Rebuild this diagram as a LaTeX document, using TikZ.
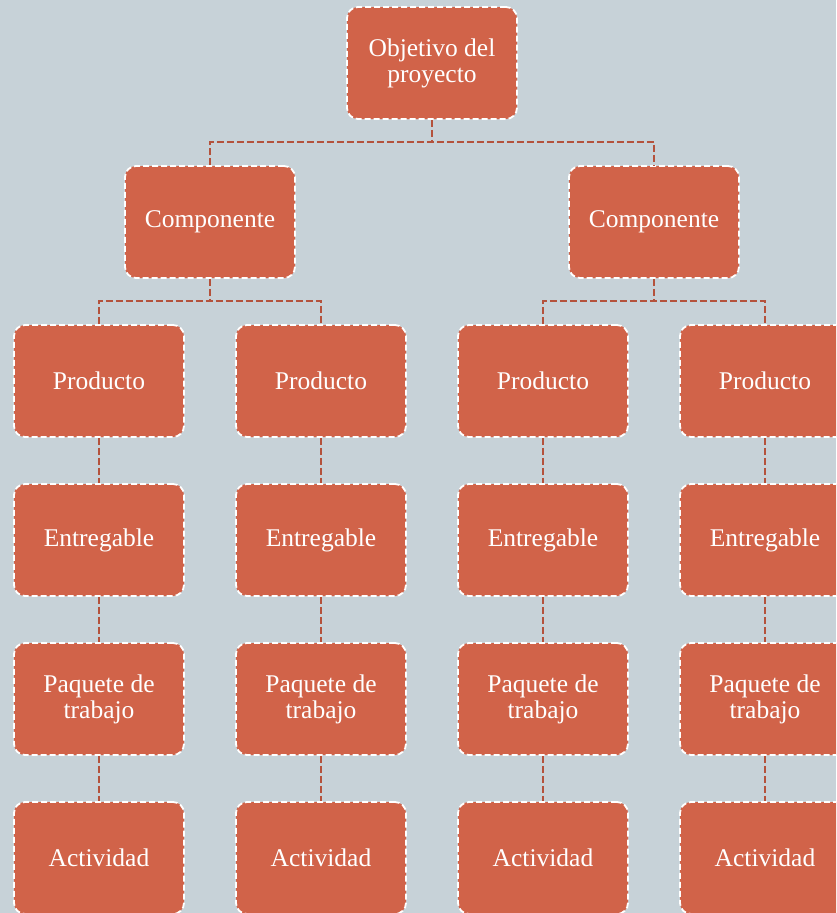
\documentclass[tikz,border=0pt]{standalone}
\usepackage{fontspec}
\setmainfont{Liberation Serif}
\definecolor{bgc}{HTML}{C7D2D8}
\definecolor{boxc}{HTML}{D16349}
\definecolor{linec}{HTML}{B4523C}
\begin{document}
\begin{tikzpicture}[x=1pt,y=-1pt,
  wbs/.style={draw=white, dashed, dash pattern=on 6pt off 3pt, line width=1.8pt, fill=boxc, rounded corners=11pt,
    minimum width=170pt, minimum height=112pt, text=white, align=center, inner sep=2pt,
    font=\fontsize{25.5}{26}\selectfont},
  conn/.style={draw=linec, dash pattern=on 7pt off 3pt, line width=2pt}]
\fill[bgc] (0,0) rectangle (836,913);
\useasboundingbox (0,0) rectangle (836,913);
\begin{scope}
\clip (0,0) rectangle (836,913);
\node[wbs] (top) at (432,63) {Objetivo del\\proyecto};
\node[wbs] (c1) at (210,222) {Componente};
\node[wbs] (c2) at (654,222) {Componente};
\foreach \i/\x in {1/99,2/321,3/543,4/765}{
  \node[wbs] (p\i) at (\x,381) {Producto};
  \node[wbs] (e\i) at (\x,540) {Entregable};
  \node[wbs] (w\i) at (\x,699) {Paquete de\\trabajo};
  \node[wbs] (a\i) at (\x,858) {Actividad};
}
\coordinate (j0) at (432,142);
\coordinate (j1) at (210,301);
\coordinate (j2) at (654,301);
\draw[conn] (top.south) -- (j0);
\draw[conn] (c1.north) |- (j0) -| (c2.north);
\draw[conn] (c1.south) -- (j1);
\draw[conn] (p1.north) |- (j1) -| (p2.north);
\draw[conn] (c2.south) -- (j2);
\draw[conn] (p3.north) |- (j2) -| (p4.north);
\foreach \i in {1,2,3,4}{
  \draw[conn] (p\i.south) -- (e\i.north);
  \draw[conn] (e\i.south) -- (w\i.north);
  \draw[conn] (w\i.south) -- (a\i.north);
}
\end{scope}
\end{tikzpicture}
\end{document}
